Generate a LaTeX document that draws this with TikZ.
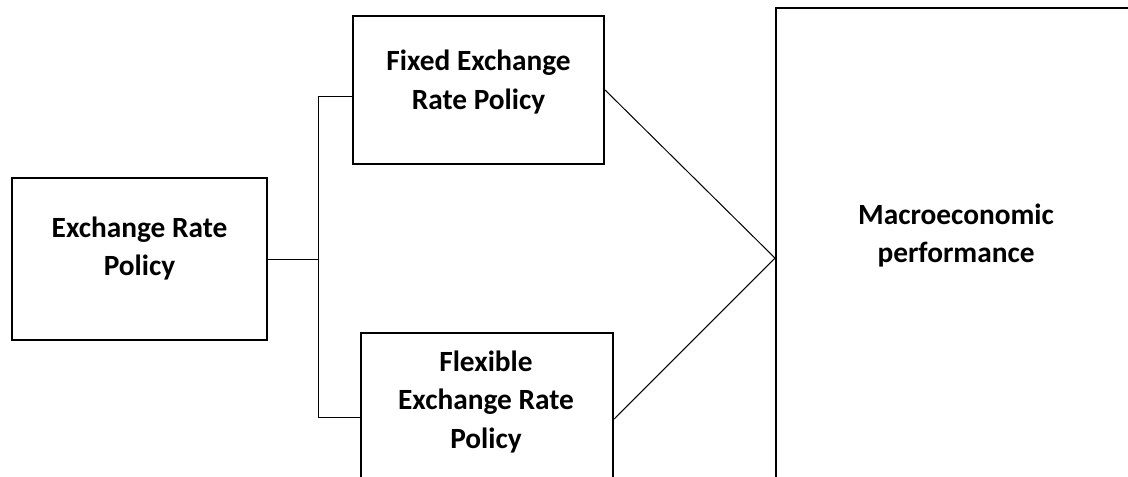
\documentclass[tikz,border=0pt]{standalone}
\usepackage{fontspec}
\setmainfont{Carlito}
\usetikzlibrary{positioning, calc}
\tikzset{
  every picture/.style={line width=0.75pt},
  box/.style={draw=black, line width=1.6pt, anchor=north west, inner sep=0pt},
  txt/.style={font=\fontsize{22}{29}\selectfont\bfseries, align=center, inner sep=0pt},
  link/.style={draw=black, line width=0.75pt},
}
\begin{document}
\begin{tikzpicture}[x=0.75pt, y=-0.75pt]
  \useasboundingbox (0,0) rectangle (1128,477);
  \clip (0,0) rectangle (1128,477);
  % boxes, placed by their top left corner (px, y down)
  \node[box, minimum width=255*0.75pt, minimum height=162*0.75pt] (exrate) at (11,177) {};
  \node[box, minimum width=251*0.75pt, minimum height=148*0.75pt] (fixed) at (352,15) {};
  \node[box, minimum width=252*0.75pt, minimum height=172*0.75pt] (flex) at (360,332) {};
  \node[box, minimum width=360*0.75pt, minimum height=500*0.75pt] (perf) at (775,7) {};
  % texts sit a little above the box centres
  \node[txt] (exratetxt) at ([yshift=8pt]exrate.center) {Exchange Rate\\Policy};
  \node[txt] (fixedtxt) at ([yshift=6pt]fixed.center) {Fixed Exchange\\Rate Policy};
  \node[txt] (flextxt) at (486,402) {Flexible\\Exchange Rate\\Policy};
  \node[txt] (perftxt) at ([yshift=17pt]perf.center) {Macroeconomic\\performance};
  % fork from the policy box to the two regimes
  \coordinate (tfork) at (318,97);
  \coordinate (bfork) at (318,417);
  \draw[link] (exrate.east) -- (exrate.east -| tfork);
  \draw[link] (fixed.west |- tfork) -- (tfork) -- (bfork) -- (flex.west |- bfork);
  % both regimes meet on the outcome box
  \draw[link] (fixed.east) -- (perf.west) -- (flex.east);
\end{tikzpicture}
\end{document}
